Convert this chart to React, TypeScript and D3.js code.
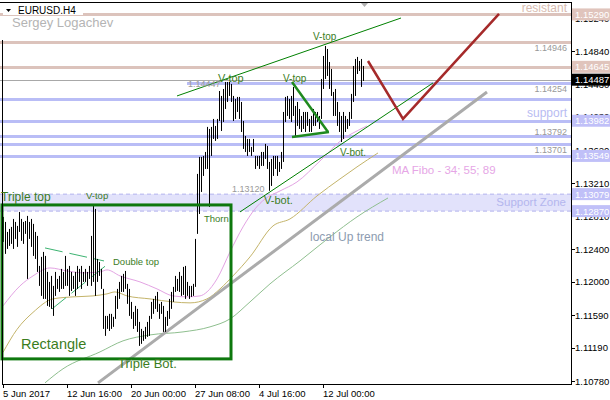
import React from 'react';
import * as d3 from 'd3';

// ---- bar data (EURUSD H4), index 0 = 5 Jun 2017 00:00 ----
const highs = [
  1.12799, 1.12737, 1.12614, 1.12651, 1.12676, 1.12774, 1.12737, 1.12688, 1.12860, 1.12774,
  1.12737, 1.12749, 1.12811, 1.12737, 1.12774, 1.12713, 1.12614, 1.12565, 1.12196, 1.12307,
  1.12368, 1.12319, 1.12122, 1.11999, 1.12073, 1.11950, 1.12122, 1.12036, 1.12073, 1.12159,
  1.12122, 1.12319, 1.12159, 1.12196, 1.12122, 1.12073, 1.12122, 1.12196, 1.12159, 1.12196,
  1.12122, 1.12159, 1.12122, 1.12196, 1.12565, 1.12934, 1.12897, 1.12282, 1.12245, 1.12159,
  1.11913, 1.11581, 1.11581, 1.11606, 1.11606, 1.11569, 1.11827, 1.11913, 1.11999, 1.12073,
  1.12098, 1.12134, 1.11975, 1.11913, 1.11753, 1.11630, 1.11704, 1.11667, 1.11507, 1.11421,
  1.11396, 1.11446, 1.11507, 1.11581, 1.11753, 1.11790, 1.11827, 1.11876, 1.11729, 1.11753,
  1.11704, 1.11569, 1.11642, 1.11790, 1.11876, 1.11938, 1.12073, 1.12036, 1.12122, 1.12073,
  1.12184, 1.12196, 1.11999, 1.11950, 1.11950, 1.11975, 1.12528, 1.13328, 1.13537, 1.13537,
  1.13549, 1.13598, 1.13906, 1.13881, 1.13906, 1.14004, 1.13918, 1.14004, 1.14348, 1.14287,
  1.14373, 1.14459, 1.14459, 1.14459, 1.14435, 1.14287, 1.14250, 1.14275, 1.14275, 1.14213,
  1.13979, 1.13795, 1.13758, 1.13758, 1.13660, 1.13758, 1.13549, 1.13549, 1.13549, 1.13598,
  1.13598, 1.13697, 1.13672, 1.13475, 1.13512, 1.13549, 1.13549, 1.13549, 1.13475, 1.13598,
  1.14090, 1.14275, 1.14287, 1.14250, 1.14287, 1.14398, 1.14164, 1.14213, 1.14127, 1.14041,
  1.14090, 1.14090, 1.14090, 1.14004, 1.14041, 1.14127, 1.14090, 1.14090, 1.14041, 1.14496,
  1.14779, 1.14902, 1.14865, 1.14705, 1.14619, 1.14336, 1.14373, 1.14213, 1.14090, 1.14041,
  1.14090, 1.14041, 1.14004, 1.14090, 1.14312, 1.14656, 1.14742, 1.14767, 1.14717, 1.14742,
  1.14656,
];
const lows = [
  1.12491, 1.12344, 1.12405, 1.12442, 1.12467, 1.12405, 1.12528, 1.12430, 1.12614, 1.12504,
  1.12467, 1.12590, 1.12036, 1.12528, 1.12430, 1.12319, 1.12282, 1.12122, 1.11950, 1.11827,
  1.11790, 1.11790, 1.11704, 1.11692, 1.11667, 1.11581, 1.11827, 1.11913, 1.11876, 1.11913,
  1.11913, 1.11950, 1.11950, 1.11827, 1.11888, 1.11913, 1.11827, 1.11913, 1.11999, 1.11913,
  1.11999, 1.11999, 1.11950, 1.12036, 1.11950, 1.11999, 1.11827, 1.11999, 1.12073, 1.11913,
  1.11421, 1.11335, 1.11421, 1.11396, 1.11421, 1.11446, 1.11544, 1.11667, 1.11790, 1.11876,
  1.11876, 1.11913, 1.11729, 1.11581, 1.11544, 1.11421, 1.11458, 1.11384, 1.11212, 1.11237,
  1.11274, 1.11298, 1.11323, 1.11335, 1.11544, 1.11606, 1.11667, 1.11630, 1.11544, 1.11606,
  1.11384, 1.11384, 1.11458, 1.11544, 1.11667, 1.11753, 1.11876, 1.11888, 1.11876, 1.11827,
  1.11839, 1.11790, 1.11827, 1.11790, 1.11815, 1.11827, 1.11938, 1.12590, 1.12835, 1.13106,
  1.13303, 1.13389, 1.13389, 1.12922, 1.13549, 1.13758, 1.13734, 1.13758, 1.13979, 1.13856,
  1.13967, 1.14127, 1.14213, 1.14287, 1.14213, 1.13979, 1.14004, 1.14090, 1.14004, 1.13844,
  1.13635, 1.13598, 1.13549, 1.13598, 1.13549, 1.13598, 1.13389, 1.13426, 1.13389, 1.13426,
  1.13426, 1.13512, 1.13389, 1.13120, 1.13180, 1.13303, 1.13389, 1.13303, 1.13352, 1.13389,
  1.13475, 1.13967, 1.14041, 1.14004, 1.13967, 1.14041, 1.13795, 1.13918, 1.13881, 1.13844,
  1.13881, 1.13844, 1.13918, 1.13844, 1.13844, 1.13918, 1.13918, 1.13967, 1.13881, 1.14004,
  1.14373, 1.14496, 1.14533, 1.14373, 1.14287, 1.14041, 1.14041, 1.13918, 1.13844, 1.13721,
  1.13758, 1.13844, 1.13881, 1.13918, 1.14004, 1.14213, 1.14287, 1.14557, 1.14594, 1.14398,
  1.14471,
];

// ---- axes ----
const xTickIdx = [0, 32, 64, 96, 128, 160];
const xTickLabels = ['5 Jun 2017', '12 Jun 16:00', '20 Jun 00:00', '27 Jun 08:00', '4 Jul 16:00', '12 Jul 00:00'];
const yTickValues = [1.1078, 1.1119, 1.1159, 1.12, 1.124, 1.1281, 1.1321, 1.1362, 1.1403, 1.1443, 1.1484, 1.1524];

// ---- moving averages (MA Fibo 34, 55, 89), [bar index, price] ----
const ma34Idx = [0, 8.5, 15, 23.5, 32, 40, 48.5, 52, 58.5, 68.5, 77, 85, 92, 98.5, 102, 107, 113.5, 120, 126, 131, 138.5, 147, 158.5, 170, 176, 182];
const ma34Val = [1.11704, 1.1195, 1.12073, 1.12171, 1.12134, 1.1211, 1.12122, 1.12147, 1.12073, 1.11999, 1.11913, 1.11827, 1.11815, 1.11827, 1.11876, 1.12036, 1.12368, 1.12676, 1.12897, 1.1302, 1.13118, 1.13229, 1.13487, 1.13758, 1.13844, 1.13918];
const ma55Idx = [0, 7, 15, 25, 35, 45, 52, 56, 62, 73.5, 85, 93.5, 102, 108.5, 115, 123.5, 135, 143.5, 157, 168.5, 177, 187.5];
const ma55Val = [1.11132, 1.11415, 1.11624, 1.1179, 1.11815, 1.11827, 1.11852, 1.11876, 1.11827, 1.1179, 1.11753, 1.11741, 1.1179, 1.11913, 1.12073, 1.12307, 1.12688, 1.12774, 1.13057, 1.13266, 1.13414, 1.13586];
const ma89Idx = [21, 30, 48.5, 60, 73.5, 90, 103.5, 113.5, 123.5, 133.5, 148.5, 163.5, 177, 192.5];
const ma89Val = [1.10757, 1.1093, 1.11138, 1.11274, 1.11347, 1.11384, 1.11446, 1.11544, 1.11753, 1.11975, 1.12258, 1.12553, 1.12799, 1.13032];

// ---- horizontal levels ----
const resistLevels = [1.1529, 1.14946, 1.14645];
const supportLevels = [1.14254, 1.13982, 1.13792, 1.13701, 1.13549];
const partialLevel = 1.14447;
const partialLevelFrom = 92;
const bidPrice = 1.14487;
const supportZone = [1.1287, 1.13079];
const axisBoxesRose = [1.1529, 1.14645];
const axisBoxesBlue = [1.13982, 1.13549, 1.13079, 1.1287];

// ---- drawn objects, [bar index, price] ----
const channelUpper = [[87, 1.14287], [199, 1.15246]];
const channelLower = [[118.5, 1.1286], [215, 1.14447]];
const triangleTop = [[144.5, 1.14459], [162.5, 1.13844]];
const triangleBase = [[144.5, 1.13783], [163, 1.13844]];
const upTrend = [[47.5, 1.10757], [242, 1.14336]];
const forecast = [[182.5, 1.14717], [200, 1.14004], [248, 1.15296]];
const rectangle = [[-0.5, 1.12946], [114, 1.11052]];
const doubleTopUpper = [[21, 1.12417], [50.5, 1.12257]];
const doubleTopLower = [[24.5, 1.11667], [52.5, 1.12221]];

const W = 610;
const H = 400;
const plotRight = 571;
const plotBottom = 384;

export default function App() {
  const x = d3.scaleLinear().domain([0, 180]).range([3, 363]);
  const y = d3.scaleLinear().domain([1.1078, 1.1484]).range([381, 51]);
  const line = d3.line<number[]>().x((d) => x(d[0])).y((d) => y(d[1]));
  const maLine = (idx: number[], val: number[]) =>
    d3.line<number>().x((d, i) => x(idx[i])).y((d) => y(d)).curve(d3.curveMonotoneX)(val) || '';

  const rose = '#dcc3bc';
  const lav = '#b9bdf6';
  const labelGreen = '#3b7d1e';
  const font = 'Liberation Sans, Arial, sans-serif';

  return (
    <svg width={W} height={H} style={{ position: 'absolute', left: 0, top: 0, background: '#fff' }} fontFamily={font}>
      <rect x={0} y={0} width={W} height={H} fill="#fff" />
      <defs>
        <clipPath id="plot">
          <rect x={0} y={3} width={plotRight} height={plotBottom - 3} />
        </clipPath>
      </defs>

      <g clipPath="url(#plot)">
        {/* support zone */}
        <rect x={0} y={y(supportZone[1])} width={plotRight} height={y(supportZone[0]) - y(supportZone[1])} fill="#e2e2fb" />
        <line x1={0} x2={plotRight} y1={y(supportZone[1])} y2={y(supportZone[1])} stroke="#b3b3ee" strokeDasharray="4,3" />
        <line x1={0} x2={plotRight} y1={y(supportZone[0])} y2={y(supportZone[0])} stroke="#b3b3ee" strokeDasharray="4,3" />

        {/* horizontal levels */}
        {resistLevels.map((p) => (
          <line key={'r' + p} x1={0} x2={plotRight} y1={Math.round(y(p)) + 0.5} y2={Math.round(y(p)) + 0.5} stroke={rose} strokeWidth={3} />
        ))}
        {supportLevels.map((p) => (
          <line key={'s' + p} x1={0} x2={plotRight} y1={Math.round(y(p)) + 0.5} y2={Math.round(y(p)) + 0.5} stroke={lav} strokeWidth={3} />
        ))}
        <line x1={x(partialLevelFrom)} x2={plotRight} y1={Math.round(y(partialLevel)) + 0.5} y2={Math.round(y(partialLevel)) + 0.5} stroke={lav} strokeWidth={3} />
        <line x1={0} x2={plotRight} y1={Math.round(y(bidPrice)) + 0.5} y2={Math.round(y(bidPrice)) + 0.5} stroke="#a8a8a8" strokeWidth={1} />

        {/* moving averages */}
        <path d={maLine(ma89Idx, ma89Val)} fill="none" stroke="#8fbf8f" strokeWidth={1} />
        <path d={maLine(ma55Idx, ma55Val)} fill="none" stroke="#c4b46a" strokeWidth={1} />
        <path d={maLine(ma34Idx, ma34Val)} fill="none" stroke="#e3a3e3" strokeWidth={1} />

        {/* trend lines */}
        <path d={line(upTrend) || ''} stroke="#ababab" strokeWidth={3} fill="none" />
        <path d={line(channelUpper) || ''} stroke="#008000" strokeWidth={1} fill="none" />
        <path d={line(channelLower) || ''} stroke="#008000" strokeWidth={1} fill="none" />
        <path d={line(doubleTopUpper) || ''} stroke="#3cb371" strokeWidth={1} strokeDasharray="18,7" fill="none" />
        <path d={line(doubleTopLower) || ''} stroke="#3cb371" strokeWidth={1} strokeDasharray="18,7" fill="none" />

        {/* bars */}
        {highs.map((h, i) => (
          <line key={i} x1={Math.round(x(i)) + 0.5} x2={Math.round(x(i)) + 0.5} y1={y(h)} y2={y(lows[i])} stroke="#000" strokeWidth={1} />
        ))}

        {/* triangle */}
        <path d={line(triangleTop) || ''} stroke="#1f8a1f" strokeWidth={2.5} fill="none" />
        <path d={line(triangleBase) || ''} stroke="#1f8a1f" strokeWidth={2.5} fill="none" />

        {/* forecast */}
        <path d={line(forecast) || ''} stroke="#a52a2a" strokeWidth={2.5} fill="none" />

        {/* rectangle */}
        <rect
          x={x(rectangle[0][0])}
          y={y(rectangle[0][1])}
          width={x(rectangle[1][0]) - x(rectangle[0][0])}
          height={y(rectangle[1][1]) - y(rectangle[0][1])}
          fill="none"
          stroke="#0e780e"
          strokeWidth={3}
        />
      </g>

      {/* frame */}
      <line x1={2.5} x2={2.5} y1={40} y2={plotBottom} stroke="#000" />
      <line x1={0} x2={plotRight} y1={2.5} y2={2.5} stroke="#000" />
      <line x1={plotRight + 0.5} x2={plotRight + 0.5} y1={2} y2={plotBottom + 0.5} stroke="#000" />
      <line x1={2} x2={plotRight + 1} y1={plotBottom + 0.5} y2={plotBottom + 0.5} stroke="#000" />
      <path d="M361,3 L368,3 L364.5,7 Z" fill="#b0b0b0" />

      {/* header */}
      <rect x={3} y={3} width={80} height={12} fill="#fff" />
      <path d="M6,9 L11,9 L8.5,12 Z" fill="#000" />
      <text x={18} y={14} fontSize={10} fill="#000">EURUSD.H4</text>
      <text x={12} y={27} fontSize={13} fill="#b4b4b4">Sergey Logachev</text>

      {/* annotation texts */}
      <g fill={labelGreen}>
        <text x={1} y={201} fontSize={12}>Triple top</text>
        <text x={86} y={199} fontSize={9.5}>V-top</text>
        <text x={113} y={265} fontSize={9.5}>Double top</text>
        <text x={204} y={222} fontSize={9.5}>Thorn</text>
        <text x={21} y={349} fontSize={14.5}>Rectangle</text>
        <text x={118} y={368} fontSize={13}>Triple Bot.</text>
        <text x={264} y={204} fontSize={11}>V-bot.</text>
        <text x={340} y={156} fontSize={10}>V-bot.</text>
        <text x={283} y={82} fontSize={10}>V-top</text>
        <text x={313} y={40} fontSize={10}>V-top</text>
      </g>
      <g fill="#999" fontSize={9}>
        <text x={188} y={87}>1.14447</text>
        <text x={232} y={192}>1.13120</text>
        <text x={567} y={51} textAnchor="end">1.14946</text>
        <text x={567} y={92} textAnchor="end">1.14254</text>
        <text x={567} y={135} textAnchor="end">1.13792</text>
        <text x={567} y={153} textAnchor="end">1.13701</text>
      </g>
      <text x={218} y={82} fontSize={11} fill={labelGreen}>V-top</text>
      <text x={567} y={12} fontSize={12} textAnchor="end" fill="#d8bcb0">resistant</text>
      <text x={567} y={117} fontSize={12} textAnchor="end" fill="#b8bcf2">support</text>
      <text x={566} y={206} fontSize={11.5} textAnchor="end" fill="#b4b6ee">Support Zone</text>
      <text x={392} y={174} fontSize={11.5} fill="#e6a6e6">MA Fibo - 34; 55; 89</text>
      <text x={310} y={241} fontSize={12} fill="#8c9bb0">local Up trend</text>

      {/* right axis */}
      {yTickValues.map((v) => (
        <g key={v}>
          <line x1={plotRight} x2={plotRight + 4} y1={Math.round(y(v)) + 0.5} y2={Math.round(y(v)) + 0.5} stroke="#000" />
          <text x={575} y={y(v) + 3.5} fontSize={9.5} fill="#000">{v.toFixed(5)}</text>
        </g>
      ))}
      {axisBoxesRose.map((p) => (
        <g key={'rb' + p}>
          <rect x={plotRight + 1} y={y(p) - 6} width={W - plotRight} height={12} fill="#e0c4bc" />
          <text x={575} y={y(p) + 3.5} fontSize={9.5} fill="#fff">{p.toFixed(5)}</text>
        </g>
      ))}
      {axisBoxesBlue.map((p) => (
        <g key={'bb' + p}>
          <rect x={plotRight + 1} y={y(p) - 6} width={W - plotRight} height={12} fill="#c0c0f8" />
          <text x={575} y={y(p) + 3.5} fontSize={9.5} fill="#fff">{p.toFixed(5)}</text>
        </g>
      ))}
      <rect x={plotRight + 1} y={y(bidPrice) - 6} width={W - plotRight} height={12} fill="#000" />
      <text x={575} y={y(bidPrice) + 3.5} fontSize={9.5} fill="#fff">{bidPrice.toFixed(5)}</text>

      {/* bottom axis */}
      {xTickIdx.map((t, i) => (
        <g key={t}>
          <line x1={Math.round(x(t)) + 0.5} x2={Math.round(x(t)) + 0.5} y1={plotBottom} y2={plotBottom + 4} stroke="#000" />
          <text x={x(t)} y={397} fontSize={9.5} fill="#000">{xTickLabels[i]}</text>
        </g>
      ))}
    </svg>
  );
}
